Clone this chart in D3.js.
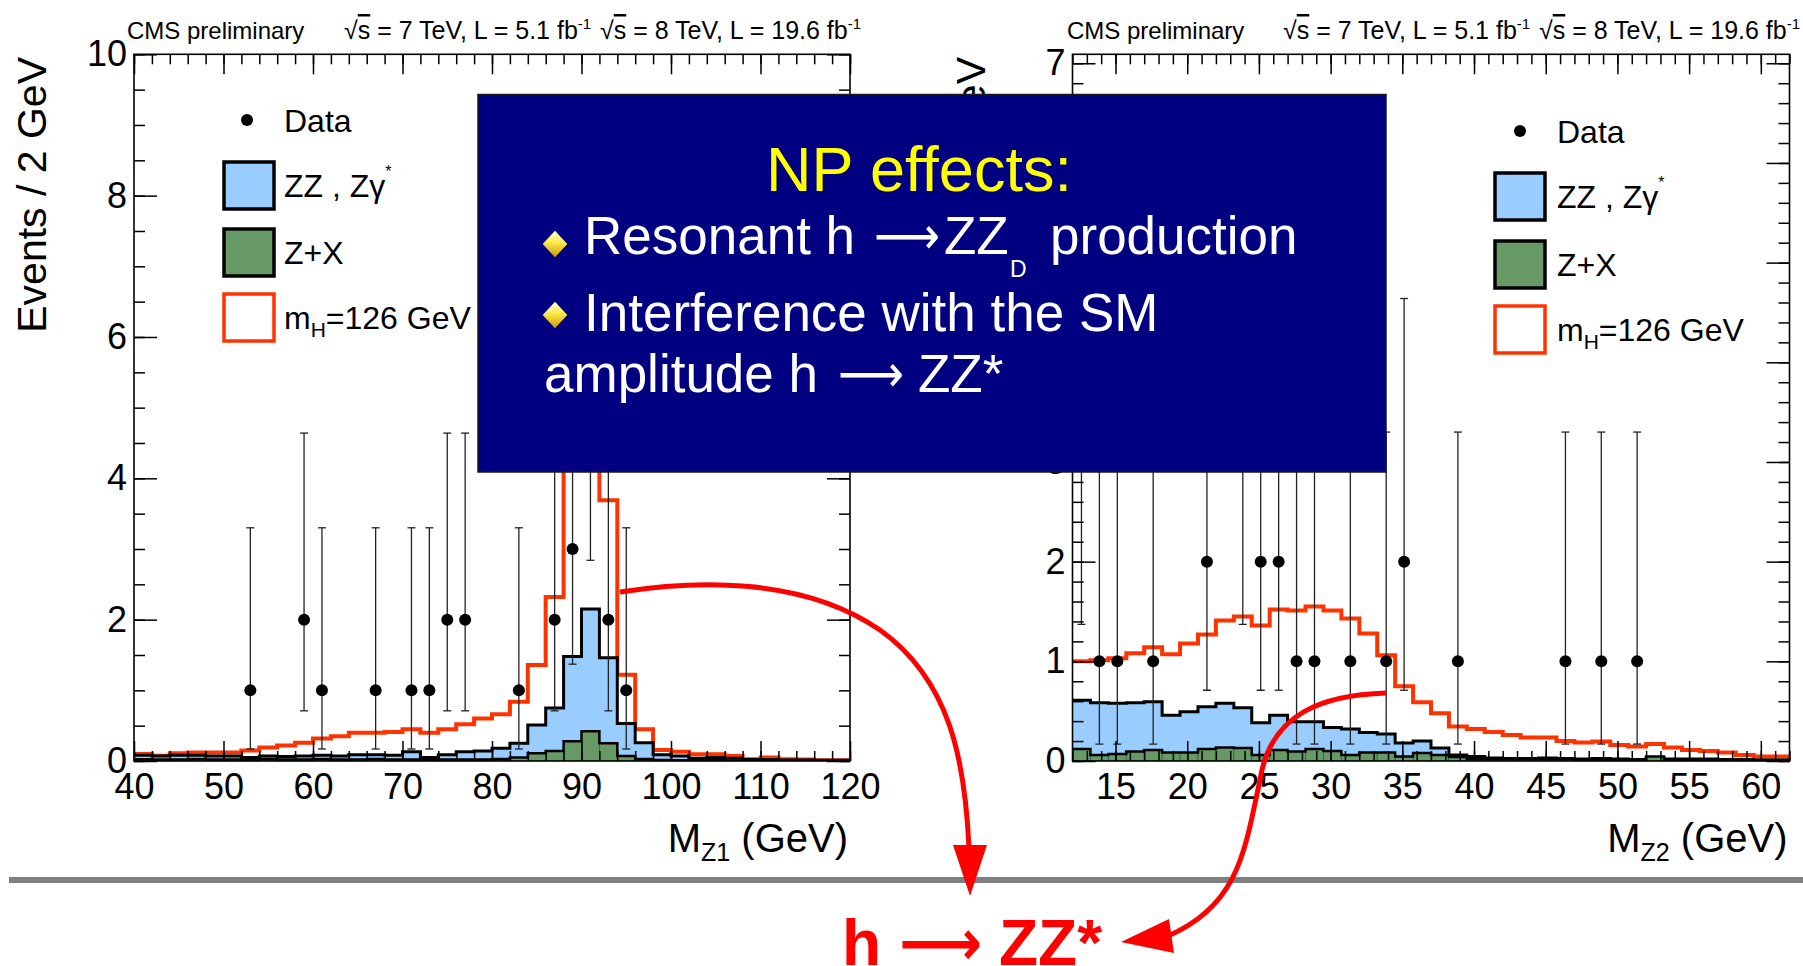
<!DOCTYPE html>
<html>
<head>
<meta charset="utf-8">
<script src="https://cdn.jsdelivr.net/npm/d3@7"></script>
<style>
  html, body { margin: 0; padding: 0; background: #fff; }
  svg { display: block; }
</style>
</head>
<body>
<script>
// ---- data ----
// M_Z1 panel: 40 bins of 2 GeV from 40 to 120
const z1Range = [40, 120];
const z1BinWidth = 2;
const z1Total = [0.10, 0.075, 0.11, 0.12, 0.12, 0.12, 0.15, 0.19, 0.22, 0.26, 0.32, 0.35, 0.40, 0.40, 0.41, 0.45, 0.40, 0.45, 0.52, 0.60,
                 0.66, 0.84, 1.36, 2.32, 6.2, 7.4, 3.69, 1.22, 0.45, 0.155, 0.13, 0.095, 0.095, 0.07, 0.025, 0.05, 0.025, 0.02, 0.01, 0.01];
const z1ZZ = [0.08, 0.07, 0.08, 0.08, 0.07, 0.07, 0.05, 0.07, 0.065, 0.07, 0.08, 0.07, 0.09, 0.09, 0.08, 0.13, 0.05, 0.09, 0.13, 0.14,
              0.18, 0.25, 0.51, 0.75, 1.48, 2.15, 1.46, 0.53, 0.26, 0.09, 0.07, 0.04, 0.05, 0.04, 0.02, 0.02, 0.015, 0.015, 0.01, 0.01];
const z1ZX = [0.025, 0.02, 0.02, 0.03, 0.02, 0.02, 0.01, 0.03, 0.02, 0.02, 0.03, 0.02, 0.02, 0.03, 0.02, 0.02, 0.01, 0.02, 0.02, 0.02,
              0.03, 0.05, 0.11, 0.14, 0.28, 0.42, 0.25, 0.07, 0.03, 0.015, 0.01, 0.01, 0.01, 0.005, 0.005, 0.005, 0.005, 0.005, 0.005, 0.005];
const z1DataX = [53, 59, 61, 67, 71, 73, 75, 77, 83, 87, 89, 91, 93, 95];
const z1DataN = [1, 2, 1, 1, 1, 1, 2, 2, 1, 2, 3, 5, 2, 1];
const z1DataLo = [0.17, 0.71, 0.17, 0.17, 0.17, 0.17, 0.71, 0.71, 0.17, 0.71, 1.37, 2.84, 0.71, 0.17];
const z1DataHi = [3.30, 4.64, 3.30, 3.30, 3.30, 3.30, 4.64, 4.64, 3.30, 4.64, 5.92, 8.38, 4.64, 3.30];

// M_Z2 panel: 40 bins of 1.25 GeV from 12 to 62
const z2Range = [12, 62];
const z2BinWidth = 1.25;
const z2Total = [1.00, 1.01, 1.03, 1.08, 1.14, 1.07, 1.18, 1.27, 1.41, 1.45, 1.36, 1.52, 1.51, 1.55, 1.51, 1.43, 1.28, 1.06, 0.75, 0.59,
                 0.48, 0.345, 0.32, 0.29, 0.26, 0.235, 0.235, 0.20, 0.185, 0.195, 0.16, 0.145, 0.17, 0.135, 0.11, 0.10, 0.085, 0.06, 0.045, 0.045];
const z2ZZ = [0.61, 0.585, 0.58, 0.585, 0.595, 0.46, 0.495, 0.545, 0.58, 0.535, 0.385, 0.46, 0.395, 0.395, 0.335, 0.32, 0.285, 0.27, 0.18, 0.20,
              0.13, 0.06, 0.045, 0.03, 0.025, 0.025, 0.03, 0.025, 0.02, 0.025, 0.02, 0.015, 0.03, 0.02, 0.02, 0.02, 0.015, 0.015, 0.01, 0.01];
const z2ZX = [0.12, 0.06, 0.07, 0.095, 0.11, 0.085, 0.085, 0.12, 0.135, 0.13, 0.06, 0.11, 0.095, 0.12, 0.10, 0.06, 0.085, 0.085, 0.045, 0.08,
              0.06, 0.04, 0.02, 0.02, 0.02, 0.02, 0.02, 0.02, 0.015, 0.015, 0.015, 0.015, 0.045, 0.015, 0.01, 0.01, 0.01, 0.01, 0.01, 0.01];
const z2DataX = [12.625, 13.875, 15.125, 17.625, 21.375, 23.875, 25.125, 26.375, 27.625, 28.875, 31.375, 33.875, 35.125, 38.875, 46.375, 48.875, 51.375];
const z2DataN = [3, 1, 1, 1, 2, 3, 2, 2, 1, 1, 1, 1, 2, 1, 1, 1, 1];
const z2DataLo = [1.37, 0.17, 0.17, 0.17, 0.71, 1.37, 0.71, 0.71, 0.17, 0.17, 0.17, 0.17, 0.71, 0.17, 0.17, 0.17, 0.17];
const z2DataHi = [5.92, 3.30, 3.30, 3.30, 4.64, 5.92, 4.64, 4.64, 3.30, 3.30, 3.30, 3.30, 4.64, 3.30, 3.30, 3.30, 3.30];

// axis ticks
const z1MajorX = [40, 50, 60, 70, 80, 90, 100, 110, 120];
const z1MajorY = [0, 2, 4, 6, 8, 10];
const z2MajorX = [15, 20, 25, 30, 35, 40, 45, 50, 55, 60];
const z2MajorY = [0, 1, 2, 3, 4, 5, 6, 7];

const legendLabels = ["Data", "ZZ , Zγ", "Z+X", "m"];

const colZZ = "#99ccff", colZX = "#669966", colSig = "#ff3300";
const FONT = "'Liberation Sans', Arial, Helvetica, sans-serif";

const svg = d3.select("body").append("svg")
  .attr("width", 1803).attr("height", 966)
  .style("font-family", FONT);
svg.append("rect").attr("width", 1803).attr("height", 966).attr("fill", "#fff");
const defs = svg.append("defs");

function drawPanel(cfg) {
  const x = d3.scaleLinear().domain(cfg.xDomain).range([cfg.left, cfg.right]);
  const y = d3.scaleLinear().domain(cfg.yDomain).range([761, 54.3]);
  const g = svg.append("g");

  defs.append("clipPath").attr("id", cfg.id)
    .append("rect").attr("x", cfg.left).attr("y", 54.3)
    .attr("width", cfg.right - cfg.left).attr("height", 761 - 54.3);

  const edges = cfg.total.map((_, i) => cfg.xDomain[0] + i * cfg.binW);
  const steps = vals => vals.flatMap((v, i) => [[edges[i], v], [edges[i] + cfg.binW, v]]);
  const line = d3.line().x(d => x(d[0])).y(d => y(d[1]));
  const area = d3.area().x(d => x(d[0])).y0(y(0)).y1(d => y(d[1]));

  const h = g.append("g").attr("clip-path", `url(#${cfg.id})`);
  // signal + background (red outline)
  h.append("path").attr("d", line(steps(cfg.total)))
    .attr("fill", "none").attr("stroke", colSig).attr("stroke-width", 4);
  // ZZ stacked on Z+X
  h.append("path").attr("d", area(steps(cfg.zz))).attr("fill", colZZ);
  h.append("path").attr("d", line(steps(cfg.zz)))
    .attr("fill", "none").attr("stroke", "#000").attr("stroke-width", 3);
  // Z+X
  h.selectAll("rect.zx").data(cfg.zx).join("rect").attr("class", "zx")
    .attr("x", (d, i) => x(edges[i]))
    .attr("width", x(cfg.binW) - x(0))
    .attr("y", d => y(d))
    .attr("height", d => y(0) - y(d))
    .attr("fill", colZX).attr("stroke", "#3d5f3d").attr("stroke-width", 0.8);
  h.append("path").attr("d", line(steps(cfg.zx)))
    .attr("fill", "none").attr("stroke", "#000").attr("stroke-width", 2.5);

  // data points
  const pts = cfg.dataX.map((v, i) => ({ x: v, n: cfg.dataN[i], lo: cfg.dataLo[i], hi: cfg.dataHi[i] }));
  const dp = h.append("g");
  dp.selectAll("line.err").data(pts).join("line").attr("class", "err")
    .attr("x1", d => x(d.x)).attr("x2", d => x(d.x))
    .attr("y1", d => y(d.lo)).attr("y2", d => y(d.hi))
    .attr("stroke", "#222").attr("stroke-width", 1.3);
  ["lo", "hi"].forEach(k => {
    dp.selectAll("line.cap" + k).data(pts).join("line").attr("class", "cap" + k)
      .attr("x1", d => x(d.x) - 4).attr("x2", d => x(d.x) + 4)
      .attr("y1", d => y(d[k])).attr("y2", d => y(d[k]))
      .attr("stroke", "#222").attr("stroke-width", 1.3);
  });
  dp.selectAll("circle").data(pts).join("circle")
    .attr("cx", d => x(d.x)).attr("cy", d => y(d.n)).attr("r", 6).attr("fill", "#000");

  // frame and ticks (ROOT style, inward on all sides)
  const ax = g.append("g");
  const style = (s, labels) => {
    s.select(".domain").remove();
    s.selectAll("line").attr("stroke-width", 1.5);
    s.attr("font-family", FONT).attr("font-size", 36).attr("fill", "#000");
    if (!labels) s.selectAll("text").remove();
  };
  const fmt = d3.format("d");
  ax.append("g").attr("transform", `translate(0,${y.range()[0]})`)
    .call(d3.axisBottom(x).tickValues(cfg.minorX).tickSize(-10).tickFormat(""))
    .call(s => style(s, false));
  ax.append("g").attr("transform", `translate(0,${y.range()[0]})`)
    .call(d3.axisBottom(x).tickValues(cfg.majorX).tickSize(-20).tickPadding(12).tickFormat(fmt))
    .call(s => style(s, true));
  ax.append("g").attr("transform", `translate(0,${y.range()[1]})`)
    .call(d3.axisTop(x).tickValues(cfg.minorX).tickSize(-10).tickFormat(""))
    .call(s => style(s, false));
  ax.append("g").attr("transform", `translate(0,${y.range()[1]})`)
    .call(d3.axisTop(x).tickValues(cfg.majorX).tickSize(-20).tickFormat(""))
    .call(s => style(s, false));
  ax.append("g").attr("transform", `translate(${cfg.left},0)`)
    .call(d3.axisLeft(y).tickValues(cfg.minorY).tickSize(-11).tickFormat(""))
    .call(s => style(s, false));
  ax.append("g").attr("transform", `translate(${cfg.left},0)`)
    .call(d3.axisLeft(y).tickValues(cfg.majorY).tickSize(-23).tickPadding(7).tickFormat(fmt))
    .call(s => style(s, true));
  ax.append("g").attr("transform", `translate(${cfg.right},0)`)
    .call(d3.axisRight(y).tickValues(cfg.minorY).tickSize(-11).tickFormat(""))
    .call(s => style(s, false));
  ax.append("g").attr("transform", `translate(${cfg.right},0)`)
    .call(d3.axisRight(y).tickValues(cfg.majorY).tickSize(-23).tickFormat(""))
    .call(s => style(s, false));
  ax.append("rect").attr("x", cfg.left).attr("y", 54.3)
    .attr("width", cfg.right - cfg.left).attr("height", 761 - 54.3)
    .attr("fill", "none").attr("stroke", "#000").attr("stroke-width", 1.6);

  // axis titles
  const xt = g.append("text").attr("x", cfg.right - 2).attr("y", 852)
    .attr("text-anchor", "end").attr("font-size", 40).attr("fill", "#000");
  xt.append("tspan").text("M");
  xt.append("tspan").attr("font-size", 25).attr("dy", 9).text(cfg.xSub);
  xt.append("tspan").attr("dy", -9).text(" (GeV)");
  g.append("text").attr("transform", `translate(${cfg.left - 88},57) rotate(-90)`)
    .attr("text-anchor", "end").attr("font-size", 41).attr("fill", "#000")
    .text(cfg.yTitle);

  // header
  const hdr = (x0, energy, lumi) => {
    const t = g.append("text").attr("x", x0).attr("y", 39).attr("font-size", 25).attr("fill", "#000");
    t.append("tspan").text("√");
    t.append("tspan").style("text-decoration", "overline").text("s");
    t.append("tspan").text(` = ${energy} TeV, L = ${lumi} fb`);
    t.append("tspan").attr("font-size", 15).attr("dy", -10).text("-1");
  };
  g.append("text").attr("x", cfg.hdrX[0]).attr("y", 39).attr("font-size", 24).attr("fill", "#000").text("CMS preliminary");
  hdr(cfg.hdrX[1], 7, "5.1");
  hdr(cfg.hdrX[2], 8, "19.6");

  // legend
  const L = cfg.leg;
  const lg = g.append("g").attr("font-size", 32).attr("fill", "#000");
  lg.append("circle").attr("cx", L.dotX).attr("cy", L.rows[0]).attr("r", 6).attr("fill", "#000");
  lg.append("text").attr("x", L.textX).attr("y", L.rows[0] + 11.5).text(legendLabels[0]);
  const boxes = [{ f: colZZ, s: "#000" }, { f: colZX, s: "#000" }, { f: "#fff", s: colSig }];
  boxes.forEach((b, i) => {
    lg.append("rect").attr("x", L.boxX).attr("y", L.rows[i + 1] - 23)
      .attr("width", 50).attr("height", 47)
      .attr("fill", b.f).attr("stroke", b.s).attr("stroke-width", 3.5);
  });
  const t1 = lg.append("text").attr("x", L.textX).attr("y", L.rows[1] + 11.5);
  t1.append("tspan").text(legendLabels[1]);
  t1.append("tspan").attr("font-size", 16).attr("dy", -20).text("*");
  lg.append("text").attr("x", L.textX).attr("y", L.rows[2] + 11.5).text(legendLabels[2]);
  const t3 = lg.append("text").attr("x", L.textX).attr("y", L.rows[3] + 11.5);
  t3.append("tspan").text(legendLabels[3]);
  t3.append("tspan").attr("font-size", 21).attr("dy", 8).text("H");
  t3.append("tspan").attr("dy", -8).text("=126 GeV");
}

const ticksBetween = (a, b, st) => d3.range(a, b + 1e-9, st);

drawPanel({
  id: "clipZ1", left: 134, right: 850, xDomain: z1Range, yDomain: [0, 10], binW: z1BinWidth,
  total: z1Total, zz: z1ZZ, zx: z1ZX,
  dataX: z1DataX, dataN: z1DataN, dataLo: z1DataLo, dataHi: z1DataHi,
  majorX: z1MajorX, minorX: ticksBetween(40, 120, 2), majorY: z1MajorY, minorY: ticksBetween(0, 10, 0.5),
  xSub: "Z1", yTitle: "Events / 2 GeV", hdrX: [127, 344, 600],
  leg: { dotX: 247, textX: 284, boxX: 224, rows: [120, 185, 252, 317] }
});
drawPanel({
  id: "clipZ2", left: 1072.5, right: 1789.5, xDomain: z2Range, yDomain: [0, 7.09], binW: z2BinWidth,
  total: z2Total, zz: z2ZZ, zx: z2ZX,
  dataX: z2DataX, dataN: z2DataN, dataLo: z2DataLo, dataHi: z2DataHi,
  majorX: z2MajorX, minorX: ticksBetween(12, 62, 1), majorY: z2MajorY, minorY: ticksBetween(0, 7, 0.2),
  xSub: "Z2", yTitle: "Events / 1.25 GeV", hdrX: [1067, 1283, 1539],
  leg: { dotX: 1520, textX: 1557, boxX: 1495, rows: [131, 196, 264, 329] }
});

// ---- slide overlay ----
svg.append("rect").attr("x", 9).attr("y", 877).attr("width", 1794).attr("height", 6).attr("fill", "#808080");

svg.append("rect").attr("x", 478).attr("y", 94.5).attr("width", 908).attr("height", 377.5)
  .attr("fill", "#000080").attr("stroke", "#1a1a1a").attr("stroke-width", 1.5);

const grad = defs.append("linearGradient").attr("id", "gem").attr("x1", 0).attr("y1", 0).attr("x2", 1).attr("y2", 1);
grad.append("stop").attr("offset", "0%").attr("stop-color", "#ffffd8");
grad.append("stop").attr("offset", "45%").attr("stop-color", "#ffe84a");
grad.append("stop").attr("offset", "100%").attr("stop-color", "#c89a00");
const diamond = d3.symbol().type(d3.symbolSquare).size(330);
[244, 315].forEach(cy => {
  svg.append("path").attr("d", diamond())
    .attr("transform", `translate(555,${cy}) scale(0.96,1.04) rotate(45)`)
    .attr("fill", "url(#gem)");
});

const box = svg.append("g").attr("fill", "#fff").attr("font-size", 53);
box.append("text").attr("x", 919).attr("y", 191).attr("text-anchor", "middle")
  .attr("font-size", 63).attr("fill", "#ffff00").text("NP effects:");
box.append("text").attr("x", 584).attr("y", 254).text("Resonant h");
box.append("text").attr("x", 874).attr("y", 254).attr("font-family", "'DejaVu Sans'")
  .attr("textLength", 66).attr("lengthAdjust", "spacingAndGlyphs").text("⟶");
box.append("text").attr("x", 944).attr("y", 254).text("ZZ");
box.append("text").attr("x", 1010).attr("y", 277).attr("font-size", 23).text("D");
box.append("text").attr("x", 1050).attr("y", 254).text("production");
box.append("text").attr("x", 584).attr("y", 331).text("Interference with the SM");
box.append("text").attr("x", 544).attr("y", 392).text("amplitude h");
box.append("text").attr("x", 838).attr("y", 392).attr("font-family", "'DejaVu Sans'")
  .attr("textLength", 66).attr("lengthAdjust", "spacingAndGlyphs").text("⟶");
box.append("text").attr("x", 918).attr("y", 392).text("ZZ*");

// bottom label
const red = "#ff0000";
const bot = svg.append("g").attr("fill", red).attr("font-size", 64).attr("font-weight", "bold");
bot.append("text").attr("x", 842).attr("y", 965).text("h");
bot.append("text").attr("x", 899).attr("y", 965).attr("font-family", "'DejaVu Sans'")
  .attr("textLength", 83).attr("lengthAdjust", "spacingAndGlyphs").text("⟶");
bot.append("text").attr("x", 999).attr("y", 965).text("ZZ*");

// curved red arrows
const arrows = svg.append("g");
arrows.append("path")
  .attr("d", "M620,592 C690,581 800,575 880,630 C950,680 965,760 969,848")
  .attr("fill", "none").attr("stroke", red).attr("stroke-width", 5);
arrows.append("path").attr("d", "M953,845 L987,845 L970,896 Z").attr("fill", red);
arrows.append("path")
  .attr("d", "M1386,693 C1320,695 1275,715 1262,770 C1245,850 1240,905 1168,936")
  .attr("fill", "none").attr("stroke", red).attr("stroke-width", 5);
arrows.append("path").attr("d", "M1169,919 L1174,953 L1121,942 Z").attr("fill", red);
</script>
</body>
</html>
